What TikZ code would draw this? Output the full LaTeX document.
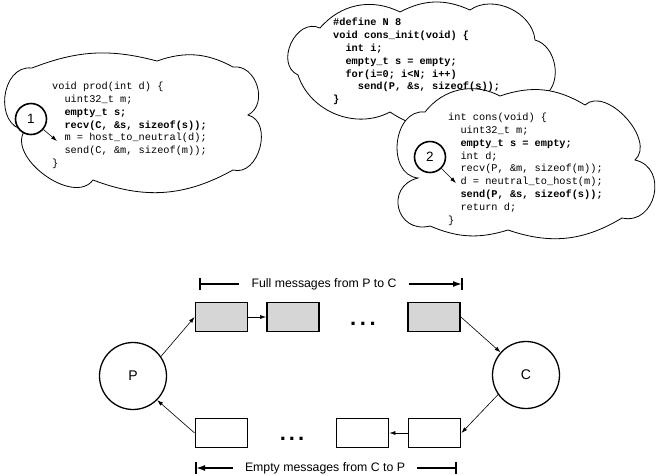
\documentclass[tikz,border=0pt]{standalone}
\usepackage{fontspec}
\setmainfont{Liberation Sans}
\setmonofont{Liberation Mono}
\usetikzlibrary{arrows.meta}

\newcommand\indt{\hspace*{1.2em}}

\tikzset{
  code/.style={anchor=north west, inner sep=0pt, align=left,
    font=\ttfamily\fontsize{10.3}{12.8}\selectfont},
  puff/.style={draw, line width=0.8pt, fill=white},
  stepnum/.style={circle, draw, fill=white, line width=1.6pt, minimum size=31pt,
    inner sep=0pt, font=\fontsize{13.5}{13.5}\selectfont},
  link/.style={-{Latex[length=6pt,width=4pt]}, line width=0.6pt},
  msg/.style={draw, line width=1.8pt, minimum width=52pt,
    minimum height=29pt, inner sep=0pt},
  full/.style={msg, fill=black!16},
  proc/.style={circle, draw, line width=1.3pt, minimum size=67pt,
    inner sep=0pt, font=\fontsize{14}{14}\selectfont},
  dotrow/.style={anchor=base, inner sep=0pt,
    font=\bfseries\fontsize{22}{22}\selectfont},
  span/.style={line width=1.6pt},
  spanlab/.style={inner xsep=12pt, inner ysep=0pt,
    font=\fontsize{12.3}{14}\selectfont}
}

\begin{document}
\begin{tikzpicture}[x=1pt,y=1pt]
\useasboundingbox (0,0) rectangle (657,-475);

%prod cloud
\draw[puff] (25,-130) to[bend left=90,looseness=1.3] (32,-68)
  to[bend left=18] (157,-61) to[bend left=24] (233,-67)
  to[bend left=80,looseness=1.2] (248,-115)
  to[bend left=90,looseness=1.2] (233,-170) to[bend left=25] (93,-180)
  to[bend left=90] (25,-130) -- cycle;

%cons_init cloud
\draw[puff] (298,-75) to[bend left=90,looseness=1.3] (320,-28)
  to[bend left=38] (400,-12) to[bend left=26] (470,-10)
  to[bend left=60] (535,-40) to[bend left=65] (545,-95)
  to[bend left=40] (470,-118) to[bend left=30] (390,-112)
  to[bend left=50] (298,-75) -- cycle;

%cons cloud
\draw[puff] (418,-178) to[bend left=90,looseness=1.25] (425,-112)
  to[bend left=40] (500,-96) to[bend left=25] (585,-105)
  to[bend left=90] (635,-160) to[bend left=90,looseness=1.5] (622,-218)
  to[bend left=25] (508,-230) to[bend left=20] (430,-226)
  to[bend left=90,looseness=1.8] (418,-178) -- cycle;

%code
\node[code] (prod) at (52,-82) {void prod(int d) \{\\
\indt uint32\_t m;\\
\indt\textbf{empty\_t s;}\\
\indt\textbf{recv(C, \&s, sizeof(s));}\\
\indt m = host\_to\_neutral(d);\\
\indt send(C, \&m, sizeof(m));\\
\}};
\node[code, font=\ttfamily\bfseries\fontsize{10.3}{12.8}\selectfont] (init) at (333,-18) {\#define N 8\\
void cons\_init(void) \{\\
\indt int i;\\
\indt empty\_t s = empty;\\
\indt for(i=0; i<N; i++)\\
\indt\indt send(P, \&s, sizeof(s));\\
\}};
\node[code] (cons) at (448,-113) {int cons(void) \{\\
\indt uint32\_t m;\\
\indt\textbf{empty\_t s = empty;}\\
\indt int d;\\
\indt recv(P, \&m, sizeof(m));\\
\indt d = neutral\_to\_host(m);\\
\indt\textbf{send(P, \&s, sizeof(s));}\\
\indt return d;\\
\}};

%steps
\node[stepnum] (one) at (31,-119) {1};
\coordinate (oneto) at (57,-141);
\draw[link] (one) -- (oneto);
\node[stepnum] (two) at (430,-157) {2};
\coordinate (twoto) at (456,-183);
\draw[link] (two) -- (twoto);

%P and C
\node[proc] (P) at (133,-376) {P};
\node[proc] (C) at (526,-375) {C};

%full messages
\node[full] (f1) at (221.5,-317) {};
\node[full] (f2) at (293,-317) {};
\node[full] (f3) at (434,-317) {};
\node[dotrow] (fdots) at (363,-325) {.\hspace{3.6pt}.\hspace{3.6pt}.};

%empty messages
\node[msg] (e1) at (221.5,-433) {};
\node[msg] (e2) at (362.5,-433) {};
\node[msg] (e3) at (434.5,-433) {};
\node[dotrow] (edots) at (292,-440) {.\hspace{3pt}.\hspace{3pt}.};

\draw[link] (P.35) -- (f1.west);
\draw[link] (f1) -- (f2);
\draw[link] (f3.east) -- (C);
\draw[link] (C.215) -- (e3.east);
\draw[link] (e3) -- (e2);
\draw[link] (e1.west) -- (P.-45);

%spans
\node[spanlab] (flab) at (324,-284) {Full messages from P to C};
\coordinate (fl) at (200,-284);
\coordinate (fr) at (462,-284);
\draw[span] (fl) -- (flab);
\draw[span, -{Latex[length=9pt,width=6pt]}] (flab) -- (fr);
\draw[span] (200,-278) -- (200,-290);
\draw[span] (462,-278) -- (462,-290);

\node[spanlab] (elab) at (325,-468) {Empty messages from C to P};
\coordinate (el) at (196,-468);
\coordinate (er) at (456,-468);
\draw[span, -{Latex[length=9pt,width=6pt]}] (elab) -- (el);
\draw[span] (elab) -- (er);
\draw[span] (196,-462) -- (196,-474);
\draw[span] (456,-462) -- (456,-474);

\end{tikzpicture}
\end{document}
